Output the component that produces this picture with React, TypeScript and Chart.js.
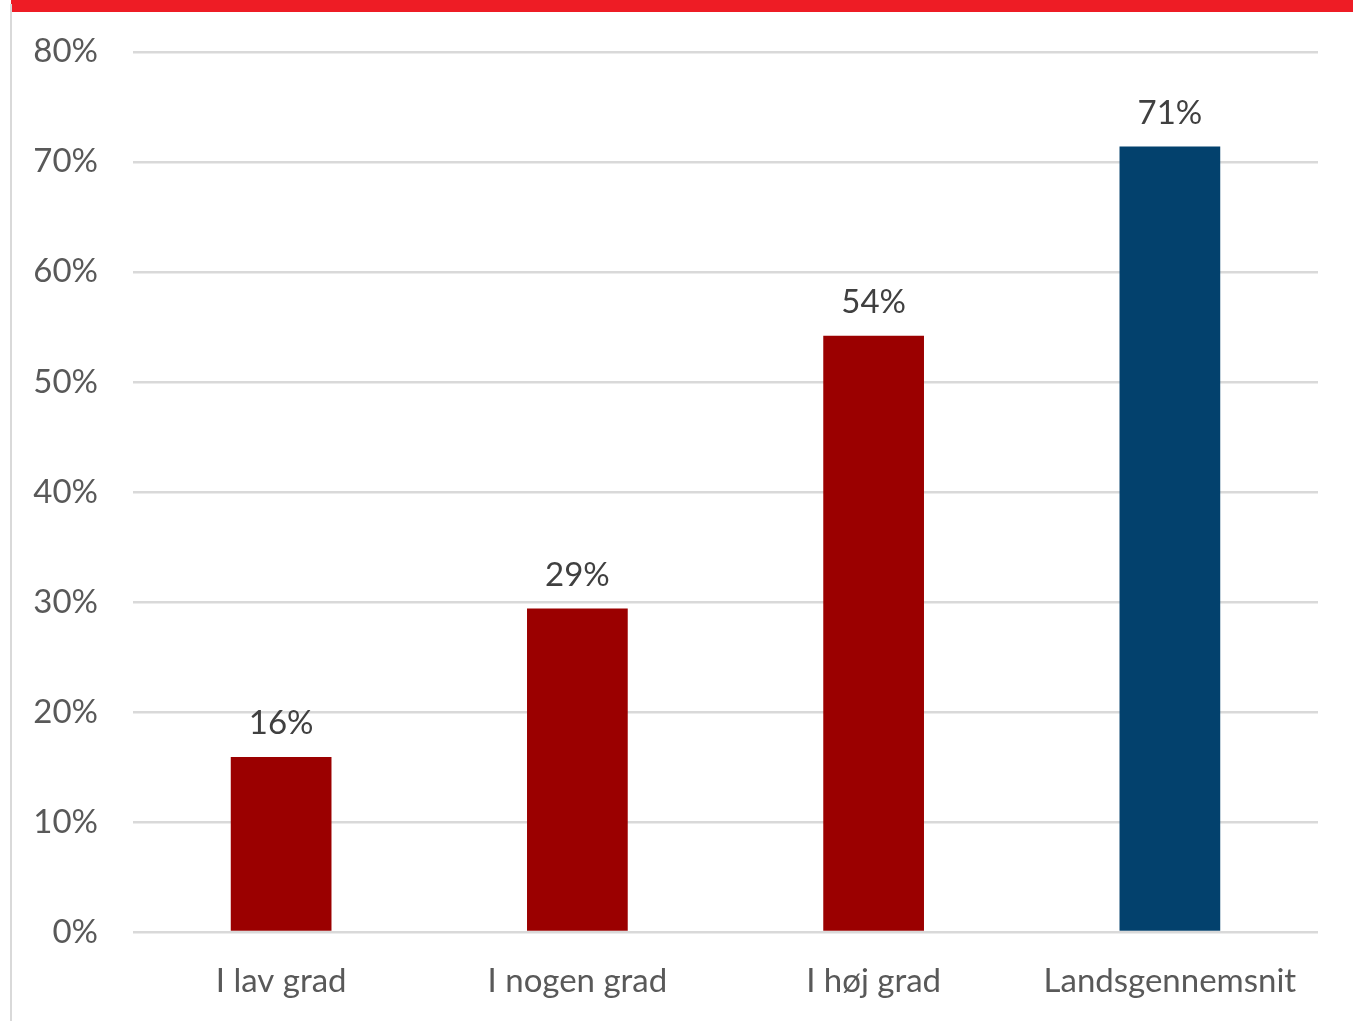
import React, { useEffect, useRef } from "react";
import { Chart, registerables } from "chart.js";

Chart.register(...registerables);

const categories = ["I lav grad", "I nogen grad", "I høj grad", "Landsgennemsnit"];
const values = [15.9, 29.4, 54.2, 71.4];
const barColors = ["#9b0000", "#9b0000", "#9b0000", "#03416d"];
const yTicks = [0, 10, 20, 30, 40, 50, 60, 70, 80];

const FONT = "Lato, 'Open Sans', sans-serif";

const valueLabels = {
  id: "valueLabels",
  afterDatasetsDraw(chart: any) {
    const { ctx } = chart;
    const meta = chart.getDatasetMeta(0);
    ctx.save();
    ctx.fillStyle = "#404040";
    ctx.font = `33px ${FONT}`;
    ctx.textAlign = "center";
    ctx.textBaseline = "bottom";
    meta.data.forEach((bar: any, i: number) => {
      ctx.fillText(`${Math.round(values[i])}%`, bar.x, bar.y - 17);
    });
    ctx.restore();
  },
};

export default function App() {
  const ref = useRef<HTMLCanvasElement | null>(null);
  useEffect(() => {
    document.body.style.margin = "0";
    const chart = new Chart(ref.current!, {
      type: "bar",
      data: {
        labels: categories,
        datasets: [
          {
            data: values,
            backgroundColor: barColors,
            categoryPercentage: 0.34,
            barPercentage: 1,
          },
        ],
      },
      options: {
        animation: false,
        responsive: false,
        maintainAspectRatio: false,
        layout: { padding: { left: 0, right: 35, top: 46, bottom: 0 } },
        plugins: { legend: { display: false }, tooltip: { enabled: false } },
        scales: {
          x: {
            grid: { display: false },
            border: { display: false },
            ticks: {
              color: "#595959",
              font: { family: FONT, size: 33 },
              padding: 22,
              maxRotation: 0,
            },
            afterFit(scale: any) {
              scale.height = 89;
            },
          },
          y: {
            min: 0,
            max: 80,
            afterBuildTicks(scale: any) {
              scale.ticks = yTicks.map((v) => ({ value: v }));
            },
            grid: { color: "#d9d9d9", lineWidth: 2.5, drawTicks: false },
            border: { display: false },
            ticks: {
              color: "#595959",
              font: { family: FONT, size: 33 },
              padding: 35,
              callback: (v: any) => `${v}%`,
            },
            afterFit(scale: any) {
              scale.width = 133;
            },
          },
        },
      },
      plugins: [valueLabels],
    });
    return () => chart.destroy();
  }, []);
  return (
    <div style={{ position: "fixed", left: 0, top: 0, width: 1353, height: 1021, background: "#fff", overflow: "hidden" }}>
      <canvas ref={ref} width={1353} height={1024} style={{ position: "absolute", left: 0, top: -3 }} />
      <div style={{ position: "absolute", left: 11, top: 0, width: 1342, height: 12, background: "#ee1c25" }} />
      <div style={{ position: "absolute", left: 10, top: 4, width: 2, height: 1017, background: "#d9d9d9" }} />
    </div>
  );
}
